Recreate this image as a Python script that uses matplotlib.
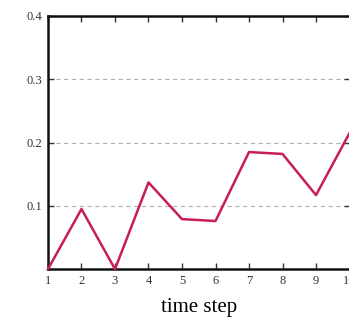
import matplotlib
matplotlib.use("Agg")
import matplotlib.pyplot as plt

# data
steps = [1, 2, 3, 4, 5, 6, 7, 8, 9, 10]
values = [0.0, 0.095, 0.0, 0.137, 0.079, 0.076, 0.185, 0.182, 0.117, 0.215]
y_ticks = [0.1, 0.2, 0.3, 0.4]

plt.rcParams['font.family'] = ['Liberation Serif', 'DejaVu Serif']

fig = plt.figure(figsize=(3.49, 3.2), dpi=100)
ax = fig.add_axes([0.1375, 0.159, 0.864, 0.791])

ax.plot(steps, values, color='#c81d57', linewidth=1.8, clip_on=False, zorder=3)

ax.set_xlim(1, 10)
ax.set_ylim(0, 0.4)
ax.set_xticks(steps)
ax.set_yticks(y_ticks)
ax.set_yticklabels([f"{v:.1f}" for v in y_ticks])

ax.yaxis.grid(True, linestyle=(0, (4, 3)), color='#b0b0b0', linewidth=0.8)
ax.set_axisbelow(True)

ax.tick_params(axis='both', direction='in', length=4, width=1, labelsize=9,
               top=True, right=True, colors='#333333', labelcolor='#333333')
ax.tick_params(axis='x', pad=4)
ax.tick_params(axis='y', pad=4)

for s in ax.spines.values():
    s.set_linewidth(1.8)
    s.set_color('#111111')

ax.set_xlabel('time step', fontsize=15, labelpad=8)

fig.savefig('out.png', dpi=100, facecolor='white')
